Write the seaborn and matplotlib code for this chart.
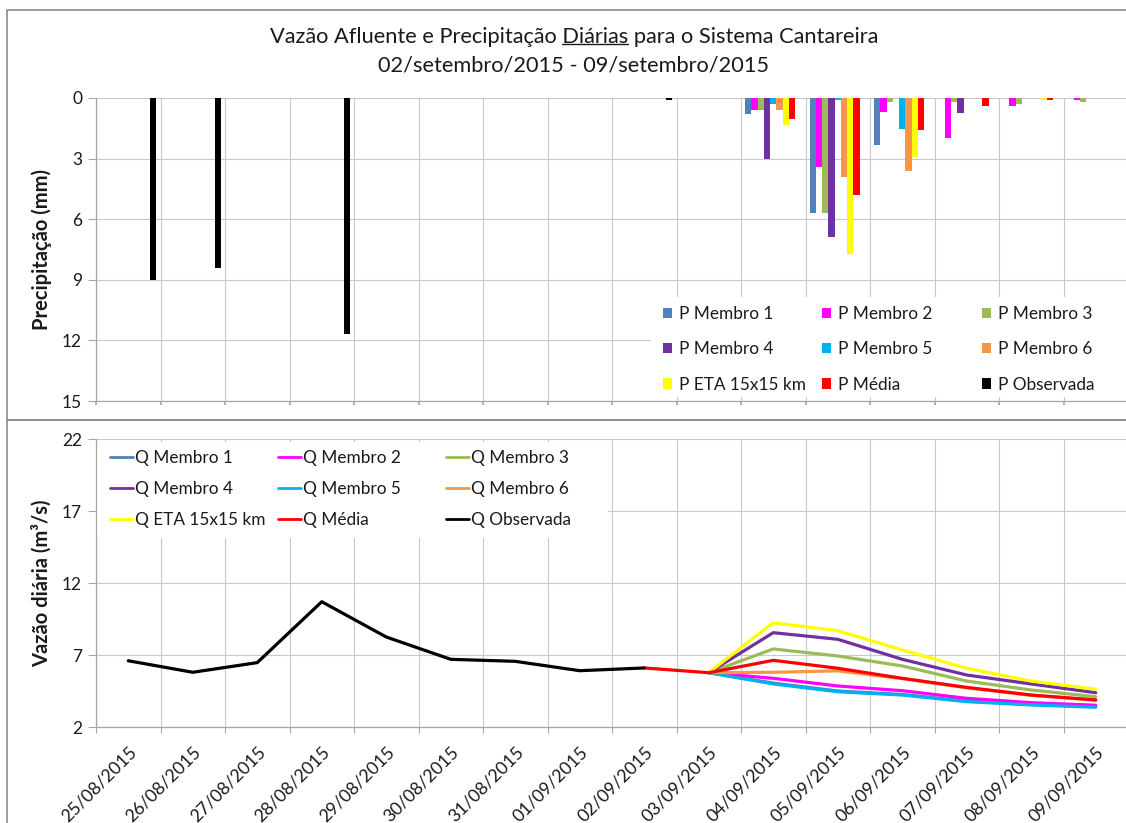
import numpy as np
import pandas as pd
import matplotlib
matplotlib.use("Agg")
import matplotlib.pyplot as plt
import seaborn as sns
from matplotlib.patches import Patch, Rectangle
from matplotlib.lines import Line2D

# ---------------- data ----------------
dates = ["25/08/2015", "26/08/2015", "27/08/2015", "28/08/2015", "29/08/2015",
         "30/08/2015", "31/08/2015", "01/09/2015", "02/09/2015", "03/09/2015",
         "04/09/2015", "05/09/2015", "06/09/2015", "07/09/2015", "08/09/2015",
         "09/09/2015"]

p_labels = ["P Membro 1", "P Membro 2", "P Membro 3", "P Membro 4", "P Membro 5",
            "P Membro 6", "P ETA 15x15 km", "P Média", "P Observada"]
q_labels = ["Q Membro 1", "Q Membro 2", "Q Membro 3", "Q Membro 4", "Q Membro 5",
            "Q Membro 6", "Q ETA 15x15 km", "Q Média", "Q Observada"]
colors = ["#4F81BD", "#FF00FF", "#9BBB59", "#7030A0", "#00B0F0",
          "#F79646", "#FFFF00", "#FF0000", "#000000"]

z = [0.0] * 10
p_m1 = z + [0.81, 5.71, 2.31, 0.0, 0.0, 0.0]
p_m2 = z + [0.61, 3.41, 0.71, 2.00, 0.40, 0.12]
p_m3 = z + [0.61, 5.71, 0.20, 0.20, 0.28, 0.20]
p_m4 = z + [3.00, 6.90, 0.0, 0.72, 0.0, 0.0]
p_m5 = z + [0.28, 0.12, 1.52, 0.0, 0.0, 0.0]
p_m6 = z + [0.61, 3.91, 3.60, 0.0, 0.0, 0.0]
p_eta = z + [1.32, 7.72, 2.90, 0.0, 0.12, 0.0]
p_med = z + [1.02, 4.82, 1.58, 0.40, 0.12, 0.0]
p_obs = [9.0, 8.4, 0.0, 11.7, 0.0, 0.0, 0.0, 0.0, 0.1, 0.0,
         0.0, 0.0, 0.0, 0.0, 0.0, 0.0]

n = np.nan
q_m1 = [n] * 9 + [5.77, 5.05, 4.50, 4.26, 3.80, 3.57, 3.41]
q_m2 = [n] * 9 + [5.77, 5.38, 4.85, 4.52, 3.99, 3.69, 3.51]
q_m3 = [n] * 9 + [5.77, 7.42, 6.93, 6.24, 5.19, 4.57, 4.10]
q_m4 = [n] * 9 + [5.77, 8.55, 8.09, 6.70, 5.61, 4.99, 4.38]
q_m5 = [n] * 9 + [5.77, 4.99, 4.45, 4.22, 3.76, 3.53, 3.37]
q_m6 = [n] * 9 + [5.77, 5.80, 5.90, 5.36, 4.72, 4.20, 3.86]
q_eta = [n] * 9 + [5.77, 9.24, 8.69, 7.35, 6.08, 5.19, 4.62]
q_med = [n] * 8 + [6.10, 5.77, 6.63, 6.08, 5.38, 4.75, 4.22, 3.88]
q_obs = [6.60, 5.80, 6.47, 10.70, 8.25, 6.70, 6.56, 5.91, 6.10] + [n] * 7

p_values = [p_m1, p_m2, p_m3, p_m4, p_m5, p_m6, p_eta, p_med, p_obs]
q_values = [q_m1, q_m2, q_m3, q_m4, q_m5, q_m6, q_eta, q_med, q_obs]

title1_pre = "Vazão Afluente e Precipitação "
title1_word = "Diárias"
title1_post = " para o Sistema Cantareira"
title2 = "02/setembro/2015 - 09/setembro/2015"

# ---------------- long tables ----------------
dfp = pd.DataFrame([(d, lab, v) for lab, vals in zip(p_labels, p_values)
                    for d, v in zip(dates, vals)], columns=["data", "serie", "valor"])
pos = np.arange(len(dates))
dfq = pd.DataFrame([(x, lab, v) for lab, vals in zip(q_labels, q_values)
                    for x, v in zip(pos, vals)], columns=["pos", "serie", "valor"]).dropna()

# ---------------- style ----------------
sns.set_theme(style="white")
plt.rcParams["font.family"] = ["Lato", "DejaVu Sans"]
TXT = "#1a1a1a"
GRID = "#C8C8C8"
AXC = "#A6A6A6"

W, H = 1126, 823
fig = plt.figure(figsize=(W / 100, H / 100), dpi=100)
fig.patch.set_facecolor("white")


def fx(x):
    return x / W


def fy(y):
    return 1 - y / H


# chart borders (two stacked charts)
fig.add_artist(Rectangle((fx(7), fy(420)), fx(1140) - fx(7), fy(10) - fy(420),
                         transform=fig.transFigure, fill=False, edgecolor="#8C8C8C", lw=1.2))
fig.add_artist(Rectangle((fx(7), fy(840)), fx(1140) - fx(7), fy(420) - fy(840),
                         transform=fig.transFigure, fill=False, edgecolor="#8C8C8C", lw=1.2))

ax1 = fig.add_axes([fx(96), fy(401), (1128 - 96) / W, (401 - 98) / H])
ax2 = fig.add_axes([fx(96), fy(727), (1128 - 96) / W, (727 - 439) / H])

# ---------------- top: precipitation bars ----------------
sns.barplot(data=dfp, x="data", y="valor", hue="serie", order=dates, hue_order=p_labels,
            palette=colors, width=0.87, gap=0, saturation=1, linewidth=0,
            legend=False, ax=ax1)
ax1.set_xlim(-0.5, len(dates) - 0.5)
ax1.set_ylim(15, 0)
ax1.set_yticks(np.arange(0, 16, 3))
ax1.set_xticks(np.arange(-0.5, len(dates), 1.0))
ax1.set_xticklabels([])
ax1.set_xlabel("")
ax1.set_ylabel("Precipitação (mm)", fontsize=14.5, fontweight="bold", color=TXT)
ax1.yaxis.set_label_coords(-0.043, 0.5)

# ---------------- bottom: flow lines ----------------
sns.lineplot(data=dfq, x="pos", y="valor", hue="serie", hue_order=q_labels,
             palette=colors, linewidth=2.3, estimator=None, legend=False, ax=ax2)
ax2.set_xlim(-0.5, len(dates) - 0.5)
ax2.set_ylim(2, 22)
ax2.set_yticks([2, 7, 12, 17, 22])
ax2.set_xticks(pos)
ax2.set_xticklabels(dates, rotation=45, ha="right", va="top", rotation_mode="anchor")
ax2.set_xticks(np.arange(-0.5, len(dates), 1.0), minor=True)
ax2.set_xlabel("")
ax2.set_ylabel("Vazão diária (m³/s)", fontsize=14.5, fontweight="bold", color=TXT)
ax2.yaxis.set_label_coords(-0.043, 0.5)

for ax in (ax1, ax2):
    ax.set_axisbelow(True)
    ax.set_facecolor("white")
    for s in ("top", "right"):
        ax.spines[s].set_visible(False)
    for s in ("left", "bottom"):
        ax.spines[s].set_color(AXC)
        ax.spines[s].set_linewidth(0.9)
    ax.grid(False)
    ax.yaxis.grid(True, color=GRID, lw=0.8)
    ax.tick_params(axis="y", which="major", left=True, length=6, width=0.8, color=AXC,
                   labelsize=12.5, labelcolor=TXT, pad=4)

ax1.xaxis.grid(True, which="major", color=GRID, lw=0.8)
ax1.tick_params(axis="x", which="major", bottom=True, length=3, color=AXC)
ax2.xaxis.grid(True, which="minor", color=GRID, lw=0.8)
ax2.tick_params(axis="x", which="major", length=0, labelsize=12.8, labelcolor=TXT, pad=12)
ax2.tick_params(axis="x", which="minor", bottom=True, length=4.5, width=0.8, color=AXC)

# ---------------- legends ----------------
ax1.add_patch(Rectangle((fx(651), fy(397)), fx(1130) - fx(651), fy(297) - fy(397),
                        transform=fig.transFigure, facecolor="white", edgecolor="none", zorder=2.5))
ax2.add_patch(Rectangle((fx(97), fy(538)), fx(608) - fx(97), fy(442) - fy(538),
                        transform=fig.transFigure, facecolor="white", edgecolor="none", zorder=2.5))

LFS = 12.4
col_x_p = [663, 822, 982]
for c in range(3):
    idx = [c, c + 3, c + 6]
    handles = [Patch(facecolor=colors[i], edgecolor="none") for i in idx]
    leg = ax1.legend(handles, [p_labels[i] for i in idx], loc="upper left",
                     bbox_to_anchor=(fx(col_x_p[c]), fy(306)), bbox_transform=fig.transFigure,
                     frameon=False, fontsize=LFS, handlelength=0.55, handleheight=0.55,
                     handletextpad=0.4, labelspacing=1.12, borderpad=0, borderaxespad=0)
    for t in leg.get_texts():
        t.set_color(TXT)
    leg.set_zorder(5)
    if c < 2:
        ax1.add_artist(leg)

col_x_q = [110, 278, 446]
for c in range(3):
    idx = [c, c + 3, c + 6]
    handles = [Line2D([0], [0], color=colors[i], lw=2.0) for i in idx]
    leg = ax2.legend(handles, [q_labels[i] for i in idx], loc="upper left",
                     bbox_to_anchor=(fx(col_x_q[c]), fy(450.5)), bbox_transform=fig.transFigure,
                     frameon=False, fontsize=LFS, handlelength=1.35, handletextpad=0.1,
                     labelspacing=0.86, borderpad=0, borderaxespad=0)
    for t in leg.get_texts():
        t.set_color(TXT)
    leg.set_zorder(5)
    if c < 2:
        ax2.add_artist(leg)

# ---------------- title with underlined word ----------------
TFS = 15.7
line1 = title1_pre + title1_word + title1_post
t1 = fig.text(fx(574), fy(37), line1, ha="center", va="center", fontsize=TFS, color=TXT)
fig.text(fx(574), fy(66), title2, ha="center", va="center", fontsize=TFS, color=TXT)
renderer = fig.canvas.get_renderer()
bb = t1.get_window_extent(renderer)
tmp = fig.text(0, 0, title1_pre + title1_word, fontsize=TFS)
w_a = tmp.get_window_extent(renderer).width
tmp.remove()
tmp = fig.text(0, 0, title1_word, fontsize=TFS)
w_b = tmp.get_window_extent(renderer).width
tmp.remove()
ux1 = bb.x0 + w_a
ux0 = ux1 - w_b
uy = bb.y0 + 3
fig.add_artist(Line2D([ux0 / W, ux1 / W], [uy / H, uy / H], transform=fig.transFigure,
                      color=TXT, lw=1.0))

fig.savefig("out.png", dpi=100)
